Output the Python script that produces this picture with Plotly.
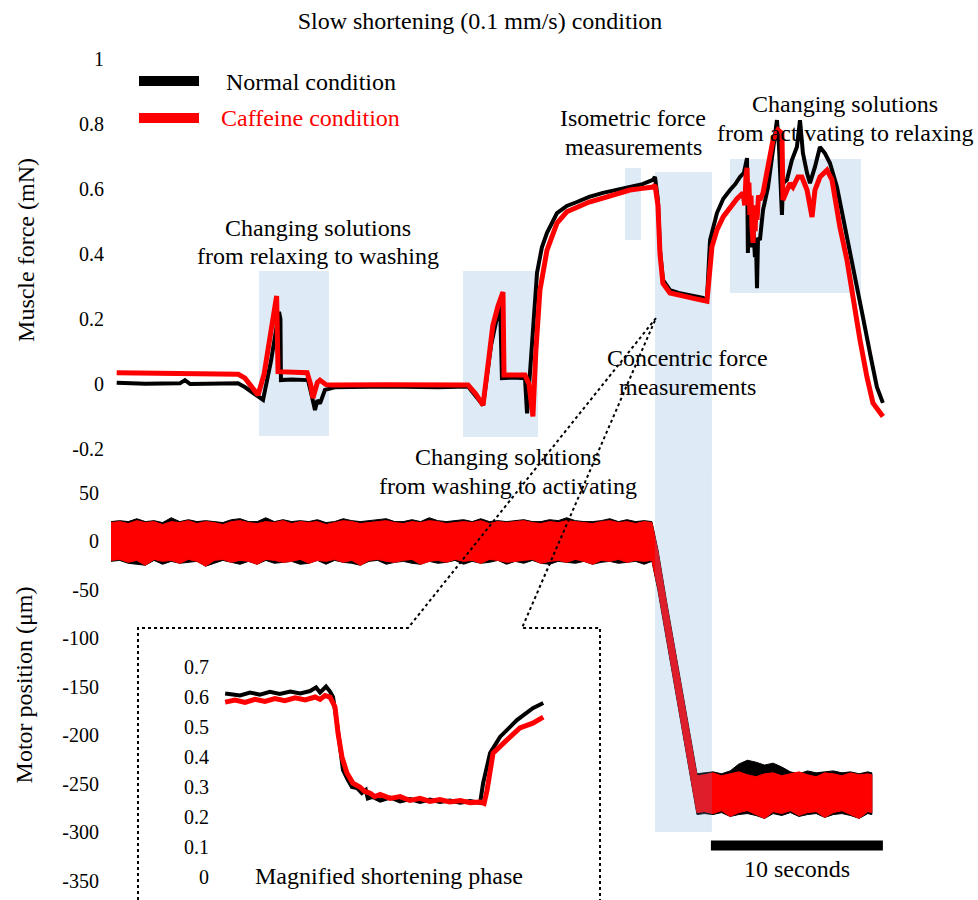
import plotly.graph_objects as go

# Slow shortening (0.1 mm/s): time in s, force in mN, motor position in um

normal_t = [
    0.33, 2.0, 4.0, 4.3, 4.6, 6.0, 7.38, 7.8, 8.26, 8.84,
    9.3, 9.77, 9.85, 9.88, 10.5, 11.45, 11.6, 11.86, 12.0, 12.15,
    12.44, 13.0, 16.0, 19.0, 20.76, 21.2, 21.63, 22.1, 22.62, 22.73,
    23.4, 24.07, 24.19, 24.36, 24.55, 24.77, 25.05, 25.35, 25.93, 26.5,
    27.09, 27.8, 28.6, 29.4, 30.17, 30.9, 31.51, 31.63, 31.8, 31.92,
    32.09, 32.5, 33.0, 33.49, 34.0, 34.42, 34.65, 34.83, 35.23, 35.6,
    35.99, 36.3, 36.57, 36.8, 36.98, 37.03, 37.09, 37.15, 37.21, 37.27,
    37.33, 37.44, 37.5, 37.56, 37.62, 37.73, 37.91, 38.2, 38.49, 38.72,
    38.84, 39.01, 39.07, 39.3, 39.59, 39.88, 40.06, 40.23, 40.47, 40.64,
    40.93, 41.22, 41.51, 41.8, 42.21, 42.56, 42.97, 43.37, 43.72, 44.13,
    44.53, 44.88,
]
normal_force = [
    0.004, 0.001, 0.002, 0.012, 0.0, 0.002, 0.002, -0.01, -0.028, -0.049,
    0.07, 0.222, 0.2, 0.012, 0.014, 0.012, -0.02, -0.08, -0.05, -0.06,
    -0.018, -0.01, -0.008, -0.01, -0.008, -0.035, -0.065, 0.12, 0.249, 0.018,
    0.02, 0.018, -0.09, 0.034, 0.2, 0.342, 0.42, 0.465, 0.526, 0.548,
    0.56, 0.576, 0.588, 0.598, 0.606, 0.615, 0.628, 0.637, 0.566, 0.412,
    0.32, 0.289, 0.28, 0.274, 0.27, 0.265, 0.258, 0.443, 0.526, 0.57,
    0.597, 0.615, 0.637, 0.65, 0.695, 0.403, 0.52, 0.45, 0.53, 0.42,
    0.5, 0.39, 0.44, 0.295, 0.45, 0.443, 0.535, 0.606, 0.72, 0.812,
    0.729, 0.52, 0.618, 0.628, 0.689, 0.729, 0.812, 0.71, 0.649, 0.618,
    0.668, 0.729, 0.71, 0.68, 0.606, 0.514, 0.412, 0.311, 0.206, 0.095,
    -0.009, -0.058,
]

caffeine_t = [
    0.33, 3.0, 7.03, 7.4, 7.79, 8.2, 8.55, 8.9, 9.24, 9.45,
    9.63, 9.71, 10.5, 11.4, 11.6, 11.74, 12.0, 12.15, 12.5, 12.85,
    16.0, 19.0, 20.76, 21.2, 21.63, 21.9, 22.2, 22.5, 22.79, 22.85,
    23.5, 24.07, 24.3, 24.53, 24.7, 24.94, 25.35, 25.93, 26.5, 27.09,
    27.8, 28.6, 29.4, 30.17, 30.9, 31.51, 31.63, 31.8, 31.92, 32.09,
    32.5, 33.0, 33.49, 34.0, 34.42, 34.65, 34.94, 35.23, 35.6, 35.99,
    36.4, 36.74, 36.85, 36.92, 36.98, 37.03, 37.09, 37.15, 37.21, 37.27,
    37.33, 37.39, 37.45, 37.5, 37.56, 37.65, 37.73, 37.91, 38.2, 38.49,
    38.78, 39.01, 39.07, 39.3, 39.48, 39.65, 39.94, 40.17, 40.47, 40.76,
    40.93, 41.22, 41.63, 41.92, 42.38, 42.79, 43.14, 43.55, 43.95, 44.3,
    44.88,
]
caffeine_force = [
    0.035, 0.034, 0.033, 0.03, 0.018, -0.01, -0.034, 0.03, 0.15, 0.23,
    0.271, 0.038, 0.036, 0.035, 0.0, -0.043, 0.005, 0.012, -0.002, -0.003,
    -0.002, -0.003, -0.003, -0.03, -0.065, 0.05, 0.18, 0.24, 0.283, 0.028,
    0.03, 0.028, 0.0, -0.1, 0.1, 0.289, 0.412, 0.495, 0.53, 0.545,
    0.56, 0.572, 0.585, 0.597, 0.602, 0.606, 0.612, 0.55, 0.4, 0.31,
    0.28, 0.272, 0.268, 0.262, 0.258, 0.255, 0.422, 0.474, 0.515, 0.545,
    0.57, 0.588, 0.55, 0.64, 0.665, 0.566, 0.62, 0.52, 0.58, 0.483,
    0.434, 0.53, 0.47, 0.55, 0.505, 0.58, 0.566, 0.588, 0.668, 0.751,
    0.782, 0.772, 0.566, 0.597, 0.618, 0.606, 0.637, 0.637, 0.597, 0.514,
    0.597, 0.637, 0.658, 0.628, 0.483, 0.382, 0.258, 0.135, 0.022, -0.058,
    -0.1,
]

# motor position: noisy band, stored as upper / lower envelope
motor_t = [
    0, 0.5, 1, 1.5, 2, 2.5, 3, 3.5,
    4, 4.5, 5, 5.5, 6, 6.5, 7, 7.5,
    8, 8.5, 9, 9.5, 10, 10.5, 11, 11.5,
    12, 12.5, 13, 13.5, 14, 14.5, 15, 15.5,
    16, 16.5, 17, 17.5, 18, 18.5, 19, 19.5,
    20, 20.5, 21, 21.5, 22, 22.5, 23, 23.5,
    24, 24.5, 25, 25.5, 26, 26.5, 27, 27.5,
    28, 28.5, 29, 29.5, 30, 30.5, 31, 31.45,
    31.8, 32.3, 32.8, 33.3, 33.8, 34.07,
    34.5, 35, 35.5, 36, 36.5, 37, 37.5, 38, 38.5, 39, 39.5,
    40, 40.5, 41, 41.5, 42, 42.5, 43, 43.5, 44, 44.24,
]
normal_pos_hi = [
    20, 21, 20, 23, 20, 21, 19, 24,
    20, 22, 20, 21, 20, 19, 22, 23,
    20, 20, 24, 20, 22, 20, 21, 20,
    22, 19, 20, 23, 21, 20, 21, 22,
    23, 20, 20, 22, 20, 24, 21, 20,
    21, 22, 20, 23, 20, 21, 20, 21,
    22, 20, 20, 22, 21, 24, 21, 20,
    20, 21, 23, 20, 22, 20, 21, 20,
    -9, -62, -112, -162, -213, -240,
    -239, -238, -240, -237, -230, -226, -228, -231, -229, -233, -238,
    -240, -237, -239, -238, -237, -239, -238, -240, -238, -239,
]
normal_pos_lo = [
    -21, -20, -23, -24, -25, -20, -24, -21,
    -23, -22, -21, -26, -23, -20, -22, -24,
    -21, -24, -20, -23, -22, -21, -24, -23,
    -20, -24, -20, -22, -23, -25, -21, -20,
    -24, -22, -21, -23, -24, -21, -23, -22,
    -20, -24, -21, -23, -22, -20, -24, -21,
    -23, -20, -23, -24, -21, -22, -23, -21,
    -24, -22, -21, -23, -22, -21, -24, -21,
    -51, -104, -154, -204, -255, -282,
    -281, -282, -280, -284, -282, -281, -283, -286, -281, -283, -280,
    -284, -282, -281, -285, -282, -281, -283, -286, -281, -282,
]
caffeine_pos_hi = [
    19, 20, 18, 21, 19, 20, 17, 20,
    19, 21, 18, 20, 19, 17, 20, 21,
    19, 18, 20, 19, 21, 18, 20, 19,
    20, 17, 19, 21, 20, 18, 19, 20,
    21, 19, 18, 20, 19, 21, 20, 18,
    19, 20, 19, 21, 18, 20, 19, 20,
    21, 19, 18, 20, 19, 21, 20, 19,
    18, 20, 21, 19, 20, 18, 20, 19,
    -11, -64, -114, -164, -215, -242,
    -241, -239, -242, -240, -238, -241, -243, -240, -239, -242, -240,
    -238, -241, -243, -239, -240, -242, -239, -241, -240, -241,
]
caffeine_pos_lo = [
    -20, -19, -22, -20, -25, -19, -21, -20,
    -23, -19, -21, -26, -20, -19, -22, -20,
    -21, -24, -19, -20, -22, -21, -19, -23,
    -20, -21, -19, -22, -20, -25, -20, -19,
    -21, -22, -20, -19, -24, -21, -20, -22,
    -19, -21, -20, -23, -19, -20, -22, -21,
    -20, -19, -23, -21, -20, -22, -19, -21,
    -24, -20, -21, -19, -22, -20, -21, -20,
    -49, -102, -152, -202, -253, -280,
    -279, -281, -278, -284, -280, -278, -282, -286, -279, -281, -278,
    -283, -280, -279, -285, -280, -278, -282, -286, -279, -280,
]

# magnified shortening phase (inset)
inset_normal_t = [
    29.46, 29.76, 29.96, 30.16, 30.36, 30.56, 30.77, 30.97, 31.17, 31.29,
    31.37, 31.49, 31.57, 31.63, 31.71, 31.77, 31.83, 31.93, 32.01, 32.11,
    32.21, 32.29, 32.33, 32.43, 32.58, 32.78, 32.98, 33.18, 33.38, 33.58,
    33.78, 33.98, 34.19, 34.39, 34.59, 34.65, 34.79, 34.99, 35.33, 35.65,
    35.86,
]
inset_normal_force = [
    0.612, 0.605, 0.615, 0.608, 0.617, 0.61, 0.618, 0.612, 0.62, 0.632,
    0.615, 0.635, 0.618, 0.6, 0.513, 0.423, 0.357, 0.323, 0.30, 0.297,
    0.28, 0.29, 0.262, 0.267, 0.255, 0.265, 0.252, 0.26, 0.25, 0.258,
    0.25, 0.255, 0.248, 0.253, 0.247, 0.313, 0.413, 0.467, 0.523, 0.563,
    0.58,
]
inset_caffeine_t = [
    29.46, 29.66, 29.86, 30.06, 30.26, 30.46, 30.66, 30.87, 31.07, 31.27,
    31.37, 31.47, 31.57, 31.67, 31.73, 31.81, 31.91, 32.03, 32.17, 32.27,
    32.37, 32.47, 32.58, 32.78, 32.98, 33.18, 33.38, 33.58, 33.78, 33.98,
    34.19, 34.39, 34.59, 34.67, 34.73, 34.85, 35.13, 35.39, 35.65, 35.86,
]
inset_caffeine_force = [
    0.583, 0.59, 0.582, 0.592, 0.585, 0.595, 0.588, 0.597, 0.59, 0.6,
    0.592, 0.605, 0.6, 0.567, 0.48, 0.40, 0.347, 0.313, 0.30, 0.285,
    0.28, 0.268, 0.275, 0.262, 0.268, 0.255, 0.262, 0.252, 0.258, 0.25,
    0.255, 0.248, 0.25, 0.245, 0.29, 0.413, 0.457, 0.497, 0.513, 0.533,
]

# shaded phases in the force panel (s, mN)
phase_start = [8.60, 20.47, 29.88, 35.99]
phase_end = [12.67, 24.83, 30.81, 43.60]
phase_low = [-0.16, -0.163, 0.443, 0.28]
phase_high = [0.348, 0.348, 0.665, 0.692]
concentric_window = [31.63, 34.94]
scale_bar_t = [34.88, 44.88]

force_ticks = [-0.2, 0, 0.2, 0.4, 0.6, 0.8, 1]
force_ticktext = ["-0.2", "0", "0.2", "0.4", "0.6", "0.8", "1"]
pos_ticks = [50, 0, -50, -100, -150, -200, -250, -300, -350]
pos_ticktext = ["50", "0", "-50", "-100", "-150", "-200", "-250", "-300", "-350"]
inset_ticks = [0, 0.1, 0.2, 0.3, 0.4, 0.5, 0.6, 0.7]
inset_ticktext = ["0", "0.1", "0.2", "0.3", "0.4", "0.5", "0.6", "0.7"]

for a, b in [(normal_t, normal_force), (caffeine_t, caffeine_force),
             (inset_normal_t, inset_normal_force), (inset_caffeine_t, inset_caffeine_force),
             (motor_t, normal_pos_hi), (motor_t, normal_pos_lo),
             (motor_t, caffeine_pos_hi), (motor_t, caffeine_pos_lo)]:
    assert len(a) == len(b), (len(a), len(b))

W, H = 978, 900
FONT = '"Liberation Serif", "Times New Roman", "DejaVu Serif", serif'
RED = "#ff0000"


def px(x, y):
    return x / W, 1 - y / H


fig = go.Figure()

fig.add_trace(go.Scatter(x=normal_t, y=normal_force, mode="lines", name="Normal condition",
                         line=dict(color="black", width=4), xaxis="x", yaxis="y"))
fig.add_trace(go.Scatter(x=caffeine_t, y=caffeine_force, mode="lines", name="Caffeine condition",
                         line=dict(color=RED, width=5), xaxis="x", yaxis="y"))

for hi, lo, col in [(normal_pos_hi, normal_pos_lo, "black"), (caffeine_pos_hi, caffeine_pos_lo, RED)]:
    fig.add_trace(go.Scatter(x=motor_t + motor_t[::-1], y=hi + lo[::-1], mode="lines",
                             fill="toself", fillcolor=col, line=dict(color=col, width=1),
                             xaxis="x2", yaxis="y2"))

fig.add_trace(go.Scatter(x=inset_normal_t, y=inset_normal_force, mode="lines",
                         line=dict(color="black", width=4), xaxis="x3", yaxis="y3"))
fig.add_trace(go.Scatter(x=inset_caffeine_t, y=inset_caffeine_force, mode="lines",
                         line=dict(color=RED, width=5), xaxis="x3", yaxis="y3"))

# shaded phases
for x0, x1, y0, y1 in zip(phase_start, phase_end, phase_low, phase_high):
    fig.add_shape(type="rect", xref="x", yref="y", x0=x0, x1=x1, y0=y0, y1=y1,
                  fillcolor="rgb(222,234,246)", line_width=0, layer="below")
fig.add_shape(type="rect", xref="x", yref="paper", x0=concentric_window[0], x1=concentric_window[1],
              y0=px(0, 470)[1], y1=px(0, 172)[1],
              fillcolor="rgb(222,234,246)", line_width=0, layer="below")
fig.add_shape(type="rect", xref="x", yref="paper", x0=concentric_window[0], x1=concentric_window[1],
              y0=px(0, 832)[1], y1=px(0, 470)[1],
              fillcolor="rgba(90,150,210,0.2)", line_width=0, layer="above")

# 10 s scale bar
fig.add_shape(type="line", xref="x2", yref="y2", x0=scale_bar_t[0], x1=scale_bar_t[1],
              y0=-314, y1=-314, line=dict(color="black", width=10))

# dotted zoom outline
outline = [(138, 900), (138, 628), (408, 628), (656, 318), (522, 628), (600, 628), (600, 900)]
path = "M " + " L ".join("%.4f,%.4f" % px(x, y) for x, y in outline)
fig.add_shape(type="path", xref="paper", yref="paper", path=path,
              line=dict(color="black", width=2, dash="dot"))

# legend
for y, col in [(81, "black"), (118, RED)]:
    x0, y0 = px(139, y)
    x1, _ = px(199, y)
    fig.add_shape(type="line", xref="paper", yref="paper", x0=x0, x1=x1, y0=y0, y1=y0,
                  line=dict(color=col, width=10))


def label(text, x, y, size=24, color="black", xanchor="center"):
    fx, fy = px(x, y)
    fig.add_annotation(text=text, x=fx, y=fy, xref="paper", yref="paper", showarrow=False,
                       xanchor=xanchor, yanchor="middle",
                       font=dict(family=FONT, size=size, color=color))


label("Normal condition", 224, 82, xanchor="left")
label("Caffeine condition", 219, 118, color=RED, xanchor="left")
label("Changing solutions", 318, 228)
label("from relaxing to washing", 318, 256)
label("Isometric force", 633, 118)
label("measurements", 633, 147)
label("Changing solutions", 845, 104)
label("from activating to relaxing", 845, 133)
label("Concentric force", 687, 358)
label("measurements", 687, 387)
label("Changing solutions", 508, 457)
label("from washing to activating", 508, 486)
label("Magnified shortening phase", 389, 876)
label("10 seconds", 797, 869)

hidden_x = dict(showticklabels=False, showgrid=False, zeroline=False, showline=False, ticks="")
tick_font = dict(family=FONT, size=20, color="black")

fig.update_layout(
    width=W, height=H,
    margin=dict(l=0, r=0, t=0, b=0),
    paper_bgcolor="white", plot_bgcolor="rgba(0,0,0,0)",
    showlegend=False,
    font=dict(family=FONT, color="black"),
    title=dict(text="Slow shortening (0.1 mm/s) condition", x=480 / W, y=1 - 21 / H,
               xanchor="center", yanchor="middle", font=dict(family=FONT, size=24, color="black")),
    xaxis=dict(domain=[105 / W, 1], range=[-0.35, 50.41], anchor="y", **hidden_x),
    yaxis=dict(domain=[1 - 460 / H, 1 - 40 / H], range=[-0.2338, 1.0585], anchor="x",
               tickvals=force_ticks, ticktext=force_ticktext, tickfont=tick_font,
               showgrid=False, zeroline=False, showline=False, ticks="",
               title=dict(text="Muscle force (mN)", font=dict(family=FONT, size=24, color="black"),
                          standoff=30)),
    xaxis2=dict(domain=[105 / W, 1], range=[-0.35, 50.41], anchor="y2", **hidden_x),
    yaxis2=dict(domain=[0, 1 - 470 / H], range=[-370.1, 73.2], anchor="x2",
                tickvals=pos_ticks, ticktext=pos_ticktext, tickfont=tick_font,
                ticklabelstandoff=5,
                showgrid=False, zeroline=False, showline=False, ticks="",
                title=dict(text="Motor position (μm)", font=dict(family=FONT, size=24, color="black"),
                           standoff=22)),
    xaxis3=dict(domain=[210 / W, 560 / W], range=[29.155, 36.197], anchor="y3", **hidden_x),
    yaxis3=dict(domain=[1 - 890 / H, 1 - 650 / H], range=[-0.0433, 0.7567], anchor="x3",
                tickvals=inset_ticks, ticktext=inset_ticktext, tickfont=tick_font,
                showgrid=False, zeroline=False, showline=False, ticks=""),
)

fig.write_html("out.html", config={"displayModeBar": False},
               post_script="document.body.style.margin = '0px';")
